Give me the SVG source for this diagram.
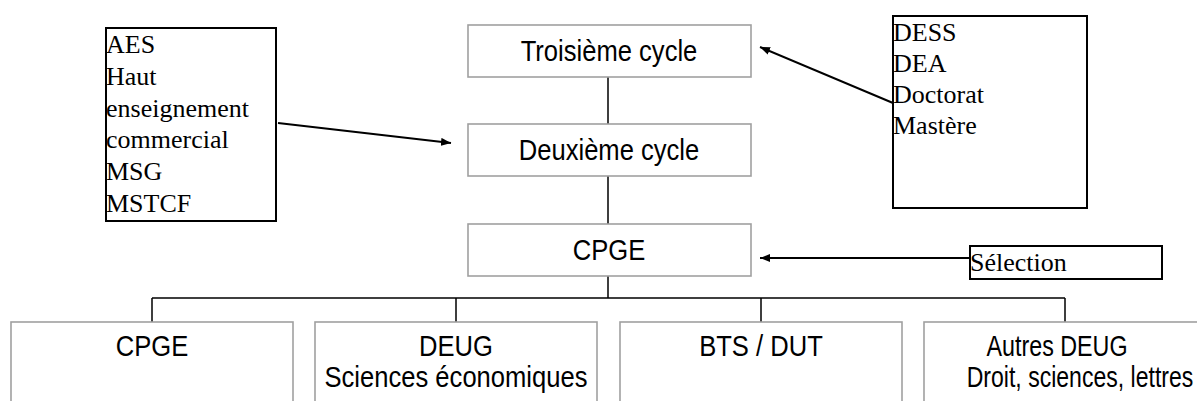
<svg xmlns="http://www.w3.org/2000/svg" width="1197" height="401" viewBox="0 0 1197 401">
<defs>
<style>
.box{fill:#fff;stroke:#a0a0a0;stroke-width:1.6}
.note{fill:#fff;stroke:#000;stroke-width:2}
.sans{font-family:"Liberation Sans",Arial,sans-serif;font-size:25.6px;fill:#000;text-anchor:middle}
.serif{font-family:"Liberation Serif","Times New Roman",serif;font-size:26px;fill:#000}
.line{stroke:#000;stroke-width:1.5;fill:none}
.arrow{stroke:#000;stroke-width:2;fill:none;marker-end:url(#ah)}
</style>
<marker id="ah" viewBox="0 0 10 8" refX="10" refY="4" markerWidth="10" markerHeight="8" markerUnits="userSpaceOnUse" orient="auto">
<path d="M0,0 L10,4 L0,8 Z" fill="#000"/>
</marker>
</defs>
<g id="connectors">
<path class="line" d="M608,77 V124 M608,176 V224 M608,276 V298 M152,298 H1065 M152,298 V322 M456,298 V322 M761,298 V322 M1065,298 V322"/>
<line class="arrow" x1="278" y1="123" x2="451" y2="143"/>
<line class="arrow" x1="893" y1="103" x2="760" y2="47"/>
<line class="arrow" x1="970" y1="258" x2="760" y2="258"/>
</g>
<g id="troisieme">
<rect class="box" x="468" y="25" width="283" height="52"/>
<text class="sans" transform="translate(609,61) scale(1,1.12)">Troisième cycle</text>
</g>
<g id="deuxieme">
<rect class="box" x="468" y="124" width="283" height="52"/>
<text class="sans" transform="translate(609,160) scale(1,1.12)">Deuxième cycle</text>
</g>
<g id="cpge-top">
<rect class="box" x="468" y="224" width="283" height="52"/>
<text class="sans" transform="translate(609,260) scale(1,1.12)">CPGE</text>
</g>
<g id="note-left">
<rect class="note" x="106" y="28" width="170" height="193"/>
<g class="serif">
<text transform="translate(106,53) scale(1,0.93)">AES</text>
<text transform="translate(106,85) scale(1,0.93)">Haut</text>
<text transform="translate(106,117) scale(1,0.93)">enseignement</text>
<text transform="translate(106,148) scale(1,0.93)">commercial</text>
<text transform="translate(106,180) scale(1,0.93)">MSG</text>
<text transform="translate(106,212) scale(1,0.93)">MSTCF</text>
</g>
</g>
<g id="note-right">
<rect class="note" x="893" y="16" width="194" height="192"/>
<g class="serif">
<text transform="translate(893,41) scale(1,0.93)">DESS</text>
<text transform="translate(893,72) scale(1,0.93)">DEA</text>
<text transform="translate(893,103) scale(1,0.93)">Doctorat</text>
<text transform="translate(893,134) scale(1,0.93)">Mastère</text>
</g>
</g>
<g id="selection">
<rect class="note" x="970" y="246" width="192" height="33"/>
<text class="serif" transform="translate(970,271) scale(1,0.93)">Sélection</text>
</g>
<g id="cpge">
<rect class="box" x="11" y="322" width="282" height="90"/>
<text class="sans" transform="translate(152,356) scale(1,1.12)">CPGE</text>
</g>
<g id="deug">
<rect class="box" x="315" y="322" width="282" height="90"/>
<text class="sans" transform="translate(456,356) scale(1,1.12)">DEUG</text>
<text class="sans" transform="translate(456,387) scale(1,1.12)">Sciences économiques</text>
</g>
<g id="bts">
<rect class="box" x="620" y="322" width="282" height="90"/>
<text class="sans" transform="translate(761,356) scale(1,1.12)">BTS / DUT</text>
</g>
<g id="autres">
<rect class="box" x="924" y="322" width="282" height="90"/>
<text class="sans" transform="translate(1057,356) scale(0.91,1.12)">Autres DEUG</text>
<text class="sans" transform="translate(1080,387) scale(0.9,1.12)">Droit, sciences, lettres</text>
</g>
</svg>
